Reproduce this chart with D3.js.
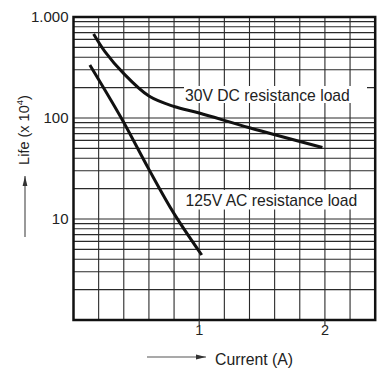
<!DOCTYPE html>
<html><head><meta charset="utf-8">
<script src="https://cdn.jsdelivr.net/npm/d3@7"></script>
<style>
  body { margin: 0; background: #fff; }
  text { font-family: "Liberation Sans", Arial, sans-serif; fill: #222; }
</style>
</head><body>
<svg id="chart" width="380" height="369"></svg>
<script>
// Life expectancy vs. switching current, two load types
const dcCurrent = [0.16, 0.25, 0.4, 0.6, 0.8, 1.0, 1.4, 1.98];
const dcLife    = [680, 455, 275, 165, 130, 112, 80, 51];
const acCurrent = [0.13, 0.38, 0.6, 0.8, 1.02];
const acLife    = [335, 100, 31, 11.3, 4.4];

const xTickValues = [1, 2];
const xTickLabels = ["1", "2"];
const yTickValues = [1000, 100, 10];
const yTickLabels = ["1.000", "100", "10"];
const seriesLabels = ["30V DC resistance load", "125V AC resistance load"];
const xTitle = "Current (A)";

const svg = d3.select("#chart");
const plot = { left: 73.5, right: 375.2, top: 17, bottom: 320 };

const x = d3.scaleLinear().domain([0, 2.4]).range([plot.left, plot.right]);
const y = d3.scaleLog().domain([1, 1000]).range([plot.bottom, plot.top]);

// grid
const grid = svg.append("g").attr("stroke", "#2a2a2a").attr("stroke-width", 1.1);
const xGrid = d3.range(1, 12).map(i => +(i * 0.2).toFixed(2));
grid.selectAll("line.v").data(xGrid).join("line")
  .attr("x1", d => x(d)).attr("x2", d => x(d))
  .attr("y1", plot.top).attr("y2", plot.bottom);
const yGrid = [];
[1, 10, 100].forEach(dec => { for (let m = 2; m <= 9; m++) yGrid.push(dec * m); });
yGrid.push(10, 100);
grid.selectAll("line.h").data(yGrid).join("line")
  .attr("x1", plot.left).attr("x2", plot.right)
  .attr("y1", d => y(d)).attr("y2", d => y(d));

// series label boxes (blank out the grid behind the text)
const boxes = [
  { x: 184, y: 86, w: 183, h: 17, tx: 185, ty: 100.5 },
  { x: 183, y: 190, w: 184, h: 19.5, tx: 185.5, ty: 206 }
];
svg.append("g").selectAll("rect").data(boxes).join("rect")
  .attr("x", d => d.x).attr("y", d => d.y).attr("width", d => d.w).attr("height", d => d.h)
  .attr("fill", "#fff");
svg.append("g").selectAll("text").data(boxes).join("text")
  .attr("x", d => d.tx).attr("y", d => d.ty)
  .attr("font-size", 15.7)
  .text((d, i) => seriesLabels[i]);

// curves
const line = d3.line().x(d => x(d[0])).y(d => y(d[1])).curve(d3.curveCatmullRom.alpha(0.5));
const series = [d3.zip(dcCurrent, dcLife), d3.zip(acCurrent, acLife)];
svg.append("g").selectAll("path").data(series).join("path")
  .attr("d", line).attr("fill", "none").attr("stroke", "#111")
  .attr("stroke-width", 3).attr("stroke-linecap", "butt");

// frame
svg.append("rect")
  .attr("x", plot.left).attr("y", plot.top)
  .attr("width", plot.right - plot.left).attr("height", plot.bottom - plot.top)
  .attr("fill", "none").attr("stroke", "#111").attr("stroke-width", 2.5);

// x ticks
const xt = svg.append("g");
xt.selectAll("line").data(xTickValues).join("line")
  .attr("x1", d => x(d)).attr("x2", d => x(d))
  .attr("y1", plot.bottom).attr("y2", plot.bottom + 5)
  .attr("stroke", "#333").attr("stroke-width", 1.2);
xt.selectAll("text").data(xTickValues).join("text")
  .attr("x", d => x(d)).attr("y", 334.5)
  .attr("text-anchor", "middle").attr("font-size", 14.5)
  .text((d, i) => xTickLabels[i]);

// y tick labels
svg.append("g").selectAll("text").data(yTickValues).join("text")
  .attr("x", 68.5).attr("y", d => y(d)).attr("dy", "0.35em")
  .attr("text-anchor", "end").attr("font-size", 15)
  .text((d, i) => yTickLabels[i]);

// axis titles with arrows
const defs = svg.append("defs");
defs.append("marker").attr("id", "arr")
  .attr("viewBox", "0 0 10 6").attr("refX", 10).attr("refY", 3)
  .attr("markerWidth", 10).attr("markerHeight", 6).attr("markerUnits", "userSpaceOnUse")
  .attr("orient", "auto")
  .append("path").attr("d", "M0,0.6 L10,3 L0,5.4 Z").attr("fill", "#333");

svg.append("line").attr("x1", 147).attr("y1", 357).attr("x2", 206).attr("y2", 357)
  .attr("stroke", "#555").attr("stroke-width", 1.2).attr("marker-end", "url(#arr)");
svg.append("text").attr("x", 215).attr("y", 365).attr("font-size", 15.8).text(xTitle);

svg.append("line").attr("x1", 25).attr("y1", 237).attr("x2", 25).attr("y2", 176)
  .attr("stroke", "#555").attr("stroke-width", 1.2).attr("marker-end", "url(#arr)");
const yTitle = svg.append("text")
  .attr("transform", "translate(29,130) rotate(-90)")
  .attr("text-anchor", "middle").attr("font-size", 14.5);
yTitle.append("tspan").text("Life (x 10");
yTitle.append("tspan").attr("font-size", 9.5).attr("dy", -6).text("4");
yTitle.append("tspan").attr("dy", 6).text(")");
</script>
</body></html>
